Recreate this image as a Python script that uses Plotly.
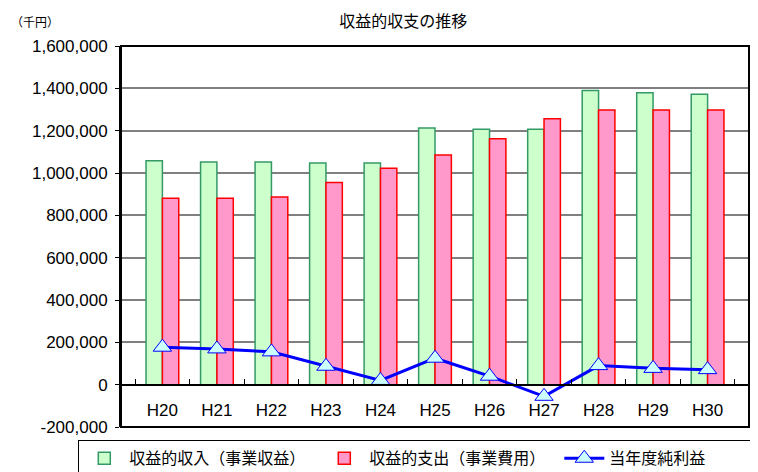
import plotly.graph_objects as go

categories = ["H20", "H21", "H22", "H23", "H24", "H25", "H26", "H27", "H28", "H29", "H30"]
revenue = [1058000, 1052000, 1052000, 1047000, 1047000, 1213000, 1207000, 1207000, 1390000, 1379000, 1372000]
expense = [881000, 881000, 887000, 955000, 1022000, 1085000, 1162000, 1256000, 1298000, 1298000, 1298000]
net_profit = [177000, 169000, 155000, 87000, 20000, 125000, 40000, -55000, 90000, 77000, 71000]
ytick_vals = [-200000, 0, 200000, 400000, 600000, 800000, 1000000, 1200000, 1400000, 1600000]
ytick_text = ["-200,000", "0", "200,000", "400,000", "600,000", "800,000",
              "1,000,000", "1,200,000", "1,400,000", "1,600,000"]

latin = "Liberation Sans, Arial, sans-serif"
cjk = "Noto Sans CJK JP, sans-serif"

fig = go.Figure()
fig.add_trace(go.Bar(
    x=categories, y=revenue, name="収益的収入（事業収益）",
    marker=dict(color="#CCFFCC", line=dict(color="#339966", width=1.5)),
))
fig.add_trace(go.Bar(
    x=categories, y=expense, name="収益的支出（事業費用）",
    marker=dict(color="#FF99CC", line=dict(color="#FF0000", width=1.5)),
))
fig.add_trace(go.Scatter(
    x=categories, y=net_profit, name="当年度純利益", mode="lines+markers",
    line=dict(color="#0000FF", width=3),
    marker=dict(symbol="triangle-up", size=16, color="#CCFFFF",
                line=dict(color="#0000FF", width=1)),
))

ymin, ymax = -200000, 1600000
zero_pos = (0 - ymin) / (ymax - ymin)

fig.update_layout(
    width=750, height=464,
    margin=dict(l=113, r=9, t=38, b=45, autoexpand=False),
    paper_bgcolor="white", plot_bgcolor="white",
    bargap=0.4, bargroupgap=0,
    title=dict(text="収益的収支の推移", x=0.527, xanchor="center", y=0.972, yanchor="middle",
               font=dict(family=cjk, size=16, color="black")),
    showlegend=True,
    legend=dict(orientation="h", x=-0.068, xanchor="left", y=-0.035, yanchor="top",
                bordercolor="black", borderwidth=1, bgcolor="white",
                font=dict(family=cjk, size=16, color="black"),
                itemwidth=40, entrywidth=185, entrywidthmode="pixels",
                traceorder="normal"),
    xaxis=dict(
        type="category", anchor="free", position=zero_pos,
        showline=True, linecolor="black", linewidth=1.5,
        ticks="inside", ticklen=5, tickcolor="black", tickson="boundaries",
        tickfont=dict(family=latin, size=17, color="black"),
        ticklabelstandoff=10, showgrid=False,
    ),
    yaxis=dict(
        range=[ymin, ymax], tickvals=ytick_vals, ticktext=ytick_text,
        showgrid=True, gridcolor="#808080", gridwidth=1.5,
        zeroline=False, showline=True, linecolor="black", linewidth=2,
        ticks="outside", ticklen=4, tickcolor="black",
        tickfont=dict(family=latin, size=17, color="black"),
        ticklabelstandoff=4,
    ),
    shapes=[dict(type="rect", xref="paper", yref="paper", x0=0, x1=1, y0=0, y1=1,
                 line=dict(color="black", width=2), layer="above")],
    annotations=[dict(text="（千円）", xref="paper", yref="paper", x=-0.178, y=1.065,
                      xanchor="left", yanchor="middle", showarrow=False,
                      font=dict(family=cjk, size=12, color="black"))],
)

fig.write_html("out.html")
